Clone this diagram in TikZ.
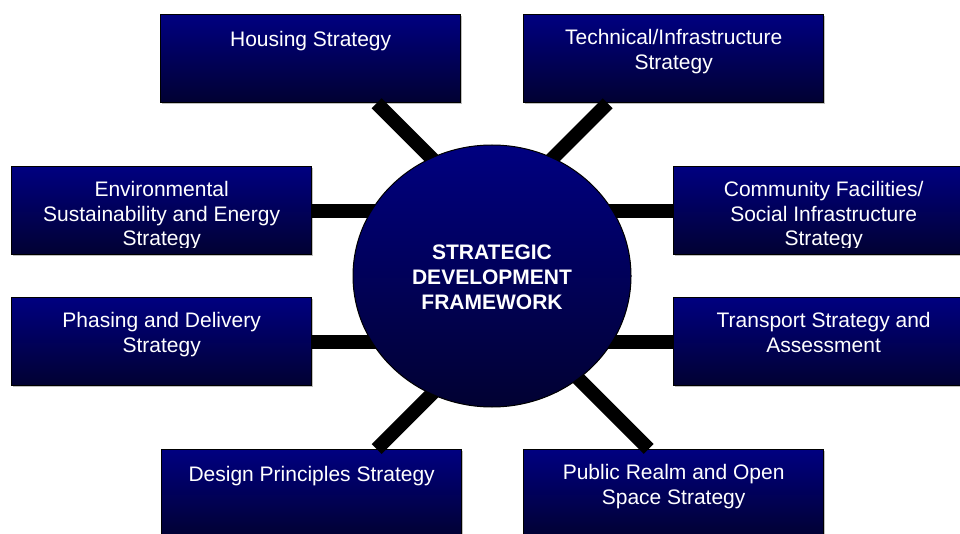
\documentclass[tikz,border=0pt]{standalone}
\usepackage{fontspec}
\setmainfont{Liberation Sans}
\usetikzlibrary{shapes.geometric,shadows}
\definecolor{navytop}{RGB}{0,0,128}
\definecolor{navybot}{RGB}{1,1,50}
\begin{document}
\begin{tikzpicture}[x=1pt,y=-1pt,
  stratbox/.style={rectangle, draw=black, line width=1.3pt, anchor=north west,
    top color=navytop, bottom color=navybot,
    minimum width=300pt, minimum height=88pt, inner sep=0pt,
    drop shadow={shadow xshift=1pt, shadow yshift=-1.5pt, fill=black!25, opacity=1}},
  boxtext/.style={anchor=north, align=center, text=white, inner sep=0pt,
    font=\fontsize{21}{24.5}\selectfont, execute at begin node={\strut}},
  hub/.style={ellipse, draw=black, line width=1pt, minimum width=278pt,
    minimum height=262pt, inner sep=0pt, top color=navytop, bottom color=navybot},
  hubtext/.style={align=center, text=white, inner sep=0pt,
    font=\fontsize{21}{25}\selectfont\bfseries},
  link/.style={line width=14pt, black}]

\clip (0,0) rectangle (960,534);

% strategy boxes
\node[stratbox] (house)  at (160,14)  {};
\node[stratbox] (tech)   at (523,14)  {};
\node[stratbox] (env)    at (11,166)  {};
\node[stratbox] (comm)   at (673,166) {};
\node[stratbox] (phase)  at (11,297)  {};
\node[stratbox] (trans)  at (673,297) {};
\node[stratbox] (design) at (161,449) {};
\node[stratbox] (public) at (523,449) {};

% spokes, their inner ends hidden under the hub
\draw[link] ([xshift=66pt]house.south) -- ++(80,80) coordinate (houseEnd);
\draw[link] ([xshift=-66pt]tech.south) -- ++(-80,80) coordinate (techEnd);
\draw[link] (env.east) -- ++(80,0) coordinate (envEnd);
\draw[link] (comm.west) -- ++(-80,0) coordinate (commEnd);
\draw[link] (phase.east) -- ++(80,0) coordinate (phaseEnd);
\draw[link] (trans.west) -- ++(-80,0) coordinate (transEnd);
\draw[link] ([xshift=65pt]design.north) -- ++(80,-80) coordinate (designEnd);
\draw[link] ([xshift=-25pt]public.north) -- ++(-80,-80) coordinate (publicEnd);

% central hub
\node[hub] (sdf) at (492,276) {};
\node[hubtext] (sdfT) at ([yshift=-1.5pt]sdf.center) {STRATEGIC\\DEVELOPMENT\\FRAMEWORK};

% box labels (three-line labels are cut off by the text frame)
\node[boxtext] (houseT)  at ([yshift=-15.3pt]house.north)  {Housing Strategy};
\node[boxtext] (techT)   at ([yshift=-15.3pt]tech.north)   {Technical/Infrastructure\\Strategy};
\begin{scope}
  \clip (env.north west) rectangle ([yshift=8pt]env.south east);
  \node[boxtext] (envT) at ([yshift=-15.3pt]env.north) {Environmental\\Sustainability and Energy\\Strategy};
\end{scope}
\begin{scope}
  \clip (comm.north west) rectangle ([yshift=8pt]comm.south east);
  \node[boxtext] (commT) at ([yshift=-15.3pt]comm.north) {Community Facilities/\\Social Infrastructure\\Strategy};
\end{scope}
\node[boxtext] (phaseT)  at ([yshift=-15.3pt]phase.north)  {Phasing and Delivery\\Strategy};
\node[boxtext] (transT)  at ([yshift=-15.3pt]trans.north)  {Transport Strategy and\\Assessment};
\node[boxtext] (designT) at ([yshift=-15.3pt]design.north) {Design Principles Strategy};
\node[boxtext] (publicT) at ([yshift=-15.3pt]public.north) {Public Realm and Open\\Space Strategy};
\end{tikzpicture}
\end{document}
